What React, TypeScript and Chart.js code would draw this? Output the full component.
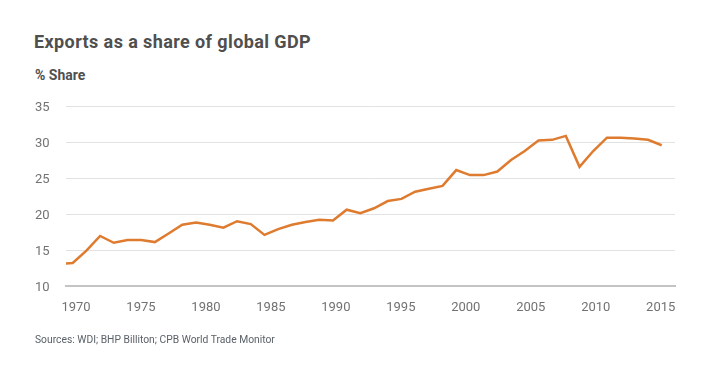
import React, { useEffect, useRef } from "react";
import { Chart, registerables } from "chart.js";

Chart.register(...registerables);

const TITLE = "Exports as a share of global GDP";
const Y_LABEL = "% Share";
const SOURCE = "Sources: WDI; BHP Billiton; CPB World Trade Monitor";

const years = [
  1971, 1972, 1973, 1974, 1975, 1976, 1977, 1978, 1979, 1980,
  1981, 1982, 1983, 1984, 1985, 1986, 1987, 1988, 1989, 1990,
  1991, 1992, 1993, 1994, 1995, 1996, 1997, 1998, 1999, 2000,
  2001, 2002, 2003, 2004, 2005, 2006, 2007, 2008, 2009, 2010,
  2011, 2012, 2013, 2014, 2015,
];

const exportShare = [
  13.05, 13.2, 14.9, 16.95, 16.0, 16.4, 16.4, 16.1, 17.3, 18.5,
  18.8, 18.5, 18.1, 19.0, 18.6, 17.1, 17.9, 18.5, 18.9, 19.2,
  19.1, 20.6, 20.1, 20.8, 21.8, 22.1, 23.1, 23.5, 23.9, 26.1,
  25.4, 25.4, 25.9, 27.5, 28.75, 30.2, 30.3, 30.85, 26.55, 28.75,
  30.6, 30.6, 30.5, 30.3, 29.55,
];

const xTickYears = [1970, 1975, 1980, 1985, 1990, 1995, 2000, 2005, 2010, 2015];
const yTickValues = [10, 15, 20, 25, 30, 35];

const FONT = "Roboto, 'Liberation Sans', Arial, sans-serif";

export default function App() {
  const canvasRef = useRef<HTMLCanvasElement | null>(null);

  useEffect(() => {
    const canvas = canvasRef.current;
    if (!canvas) return;
    const chart = new Chart(canvas, {
      type: "line",
      data: {
        datasets: [
          {
            data: years.map((y, i) => ({ x: y, y: exportShare[i] })),
            xAxisID: "xd",
            yAxisID: "y",
            borderColor: "#de7b2f",
            borderWidth: 2.5,
            pointRadius: 0,
            tension: 0,
            fill: false,
            clip: 0,
          },
        ],
      },
      options: {
        responsive: false,
        animation: false,
        events: [],
        layout: { padding: { left: 35, right: 35, top: 106, bottom: 62 } },
        plugins: {
          legend: { display: false },
          tooltip: { enabled: false },
          title: { display: false },
        },
        scales: {
          xd: {
            type: "linear",
            display: false,
            position: "bottom",
            min: 1971.51,
            max: 2015.97,
          },
          x: {
            type: "linear",
            position: "bottom",
            min: 1969.23,
            max: 2016.1,
            afterBuildTicks: (scale: any) => {
              scale.ticks = xTickYears.map((v) => ({ value: v }));
            },
            afterFit: (scale: any) => {
              scale.height = 30;
            },
            grid: { display: false, drawTicks: false },
            border: { display: true, color: "#c4c4c4", width: 2 },
            ticks: {
              padding: 14,
              color: "#727272",
              font: { family: FONT, size: 13 },
              maxRotation: 0,
              autoSkip: false,
              callback: (v: any) => String(v),
            },
          },
          y: {
            type: "linear",
            min: 10,
            max: 35,
            afterBuildTicks: (scale: any) => {
              scale.ticks = yTickValues.map((v) => ({ value: v }));
            },
            afterFit: (scale: any) => {
              scale.width = 31;
            },
            grid: { color: "#e2e2e2", lineWidth: 1, drawTicks: false },
            border: { display: false },
            ticks: {
              crossAlign: "far",
              padding: 18,
              labelOffset: 2,
              color: "#727272",
              font: { family: FONT, size: 13 },
              callback: (v: any) => String(v),
            },
          },
        },
      },
    });
    return () => chart.destroy();
  }, []);

  return (
    <div
      style={{
        position: "fixed",
        left: 0,
        top: 0,
        width: 710,
        height: 378,
        background: "#ffffff",
        overflow: "hidden",
      }}
    >
      <div
        style={{
          position: "absolute",
          left: 34,
          top: 33,
          fontFamily: FONT,
          fontWeight: 700,
          fontSize: 18,
          lineHeight: "18px",
          letterSpacing: "0.4px",
          color: "#4f4f4f",
          whiteSpace: "nowrap",
        }}
      >
        {TITLE}
      </div>
      <div
        style={{
          position: "absolute",
          left: 35,
          top: 68,
          fontFamily: FONT,
          fontWeight: 700,
          fontSize: 14,
          lineHeight: "14px",
          color: "#4f4f4f",
          whiteSpace: "nowrap",
        }}
      >
        {Y_LABEL}
      </div>
      <canvas
        ref={canvasRef}
        width={710}
        height={378}
        style={{ position: "absolute", left: 0, top: 0, width: 710, height: 378 }}
      />
      <div
        style={{
          position: "absolute",
          left: 35,
          top: 334,
          fontFamily: FONT,
          fontWeight: 400,
          fontSize: 10.3,
          lineHeight: "11px",
          color: "#5b6168",
          whiteSpace: "nowrap",
        }}
      >
        {SOURCE}
      </div>
    </div>
  );
}
